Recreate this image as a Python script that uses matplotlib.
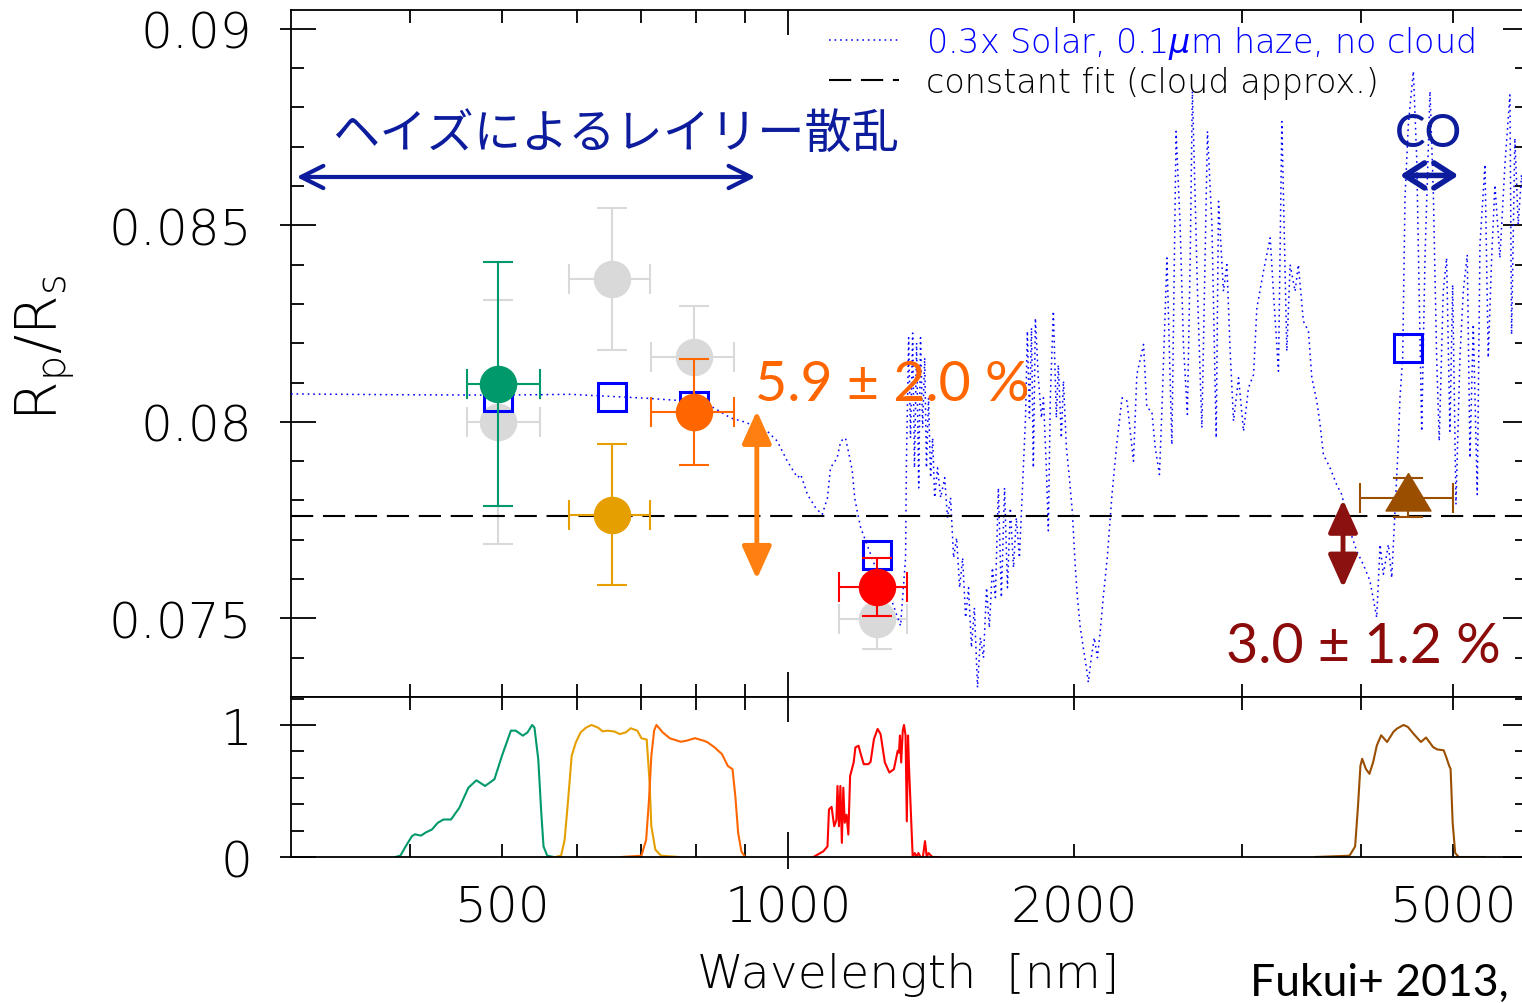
import matplotlib
matplotlib.use('Agg')
import matplotlib.pyplot as plt
from matplotlib.ticker import FixedLocator, FuncFormatter, MultipleLocator, NullLocator

plt.rcParams['font.family'] = ['DejaVu Sans']
plt.rcParams['font.weight'] = 200
plt.rcParams['lines.scale_dashes'] = False
plt.rcParams['mathtext.fontset'] = 'custom'
plt.rcParams['mathtext.rm'] = 'DejaVu Sans:weight=200'
plt.rcParams['mathtext.it'] = 'DejaVu Sans:italic:weight=200'

# ---------------- data ----------------
# model transmission spectrum: 0.3x solar, 0.1 um haze, no cloud
model_wl = [300, 390, 495, 590, 711, 771, 835, 870, 899, 951, 974, 998, 1023, 1031,
            1048, 1069, 1086, 1100, 1108, 1126, 1136, 1149, 1159, 1168, 1175, 1182,
            1192, 1236, 1282, 1313, 1329, 1332, 1339, 1345, 1352, 1358, 1365, 1372,
            1378, 1385, 1392, 1398, 1405, 1412, 1419, 1426, 1436, 1447, 1461, 1471,
            1482, 1493, 1504, 1515, 1526, 1537, 1548, 1559, 1570, 1582, 1593, 1605,
            1617, 1628, 1640, 1652, 1664, 1676, 1689, 1701, 1713, 1726, 1738, 1751,
            1764, 1777, 1785, 1794, 1803, 1811, 1820, 1833, 1847, 1856, 1869, 1878,
            1887, 1901, 1915, 1924, 1938, 1948, 1962, 1976, 1990, 2005, 2015, 2029,
            2044, 2059, 2069, 2084, 2099, 2115, 2130, 2145, 2166, 2182, 2191, 2218,
            2245, 2272, 2308, 2327, 2365, 2384, 2413, 2433, 2458, 2473, 2503, 2533,
            2559, 2584, 2605, 2630, 2648, 2662, 2680, 2695, 2724, 2761, 2791, 2820,
            2836, 2870, 2894, 2917, 2941, 2977, 3013, 3049, 3087, 3112, 3162, 3214,
            3239, 3279, 3306, 3346, 3373, 3414, 3441, 3483, 3526, 3555, 3598, 3627,
            3656, 3715, 3776, 3822, 3900, 3964, 4027, 4093, 4160, 4194, 4227, 4279,
            4314, 4348, 4383, 4401, 4430, 4455, 4491, 4546, 4583, 4639, 4676, 4733,
            4771, 4810, 4840, 4887, 4927, 4967, 5000, 5040, 5089, 5130, 5180, 5214,
            5256, 5307, 5342, 5407, 5450, 5495, 5539, 5606, 5675, 5744, 5767, 5813,
            5860, 5908, 6000]
model_rp = [0.08071, 0.08069, 0.08068, 0.08070, 0.08060, 0.08054, 0.08036, 0.08010,
            0.08000, 0.07976, 0.07951, 0.07900, 0.07858, 0.07866, 0.07815, 0.07781,
            0.07764, 0.07807, 0.07883, 0.07908, 0.07951, 0.07959, 0.07917, 0.07875,
            0.07807, 0.07773, 0.07731, 0.07629, 0.07553, 0.07481, 0.07654, 0.07908,
            0.08214, 0.07959, 0.08226, 0.07883, 0.08201, 0.07832, 0.08214, 0.07985,
            0.08163, 0.07883, 0.08061, 0.07858, 0.07959, 0.07807, 0.07883, 0.07807,
            0.07858, 0.07756, 0.07807, 0.07654, 0.07705, 0.07578, 0.07654, 0.07502,
            0.07578, 0.07426, 0.07527, 0.07324, 0.07451, 0.07400, 0.07578, 0.07476,
            0.07629, 0.07553, 0.07832, 0.07553, 0.07832, 0.07578, 0.07781, 0.07629,
            0.07756, 0.07654, 0.07832, 0.08010, 0.08231, 0.08010, 0.08239, 0.07883,
            0.08264, 0.08112, 0.08010, 0.08061, 0.07883, 0.07723, 0.08061, 0.08282,
            0.08010, 0.08145, 0.07959, 0.08104, 0.07934, 0.07858, 0.07774, 0.07629,
            0.07553, 0.07476, 0.07426, 0.07375, 0.07337, 0.07400, 0.07451, 0.07400,
            0.07469, 0.07553, 0.07654, 0.07756, 0.07815, 0.07951, 0.08061, 0.08053,
            0.07900, 0.08120, 0.08197, 0.08036, 0.08027, 0.07934, 0.07866, 0.08036,
            0.08417, 0.07942, 0.08739, 0.08502, 0.08197, 0.08019, 0.08417, 0.08841,
            0.08569, 0.08332, 0.07985, 0.08739, 0.08502, 0.07959, 0.08561, 0.08332,
            0.08400, 0.08180, 0.08002, 0.08112, 0.07976, 0.08086, 0.08120, 0.08290,
            0.08383, 0.08468, 0.08332, 0.08129, 0.08764, 0.08180, 0.08400, 0.08332,
            0.08400, 0.08256, 0.08231, 0.08112, 0.08053, 0.07993, 0.07917, 0.07883,
            0.07840, 0.07815, 0.07722, 0.07671, 0.07637, 0.07595, 0.07502, 0.07688,
            0.07612, 0.07688, 0.07603, 0.07773, 0.07942, 0.08061, 0.08163, 0.08569,
            0.08756, 0.08892, 0.08671, 0.07976, 0.08417, 0.08841, 0.08586, 0.08163,
            0.07951, 0.08332, 0.08417, 0.07976, 0.08349, 0.07790, 0.08163, 0.08332,
            0.08425, 0.07908, 0.08248, 0.07815, 0.08451, 0.08655, 0.08163, 0.08417,
            0.08603, 0.08417, 0.08655, 0.08832, 0.08222, 0.08722, 0.08502, 0.08629,
            0.08450]

const_fit = 0.0776

# observed radii (this work) and earlier values
band_wl = [495, 653, 796, 1239]
band_lo = [36, 65, 79, 108]
band_hi = [53, 63, 82, 95]
prev_rp = [0.0800, 0.08364, 0.08165, 0.07498]
prev_err = [0.0031, 0.0018, 0.0013, 0.00077]
obs_rp = [0.08097, 0.07764, 0.08025, 0.07580]
obs_err = [0.0031, 0.0018, 0.00135, 0.00073]
obs_colors = ['#00996b', '#e69f00', '#ff6600', '#ff0000']
model_bin_wl = [495, 653, 796, 1239, 4490]
model_bin_rp = [0.08064, 0.08064, 0.08041, 0.07661, 0.08188]

irac_wl = 4490
irac_lo, irac_hi = 494, 510
irac_rp = 0.07807
irac_err = 0.0005

# filter response curves
g_wl = [386, 391, 396, 402, 405, 411, 416, 422, 428, 434, 442, 451, 461, 470, 480,
        491, 500, 511, 517, 526, 532, 538, 541, 546, 550, 553, 558, 567]
g_tr = [0, 0.01, 0.08, 0.157, 0.172, 0.162, 0.187, 0.208, 0.259, 0.284, 0.284,
        0.373, 0.525, 0.581, 0.538, 0.589, 0.766, 0.957, 0.957, 0.919, 0.944, 1.0,
        0.98, 0.74, 0.335, 0.08, 0.01, 0]
r_wl = [569, 577, 582, 587, 592, 598, 605, 613, 621, 631, 638, 646, 657, 665, 675,
        683, 694, 701, 710, 715, 718, 725, 735, 768]
r_tr = [0, 0.01, 0.13, 0.436, 0.766, 0.868, 0.944, 0.98, 1.0, 0.98, 0.952, 0.957,
        0.95, 0.931, 0.944, 0.975, 0.957, 0.899, 0.89, 0.563, 0.233, 0.056, 0.01, 0]
i_wl = [667, 701, 709, 714, 718, 723, 727, 738, 751, 771, 781, 798, 816, 823, 837,
        852, 864, 874, 880, 886, 893, 901]
i_tr = [0, 0.01, 0.13, 0.436, 0.766, 0.96, 1.0, 0.944, 0.899, 0.873, 0.88, 0.9,
        0.88, 0.868, 0.83, 0.779, 0.69, 0.665, 0.46, 0.183, 0.043, 0]
j_wl = [1063, 1089, 1100, 1104, 1111, 1118, 1124, 1127, 1131, 1135, 1139, 1143,
        1147, 1152, 1157, 1162, 1172, 1177, 1186, 1191, 1201, 1214, 1221, 1231, 1242,
        1251, 1264, 1278, 1292, 1304, 1308, 1311, 1315, 1320, 1324, 1329, 1333, 1337,
        1340, 1352, 1359, 1363, 1371, 1378, 1386, 1393, 1399, 1405, 1418, 1443]
j_tr = [0, 0.043, 0.08, 0.36, 0.38, 0.233, 0.28, 0.538, 0.233, 0.538, 0.107, 0.525,
        0.26, 0.32, 0.17, 0.614, 0.716, 0.83, 0.843, 0.792, 0.703, 0.703, 0.72, 0.893,
        0.97, 0.931, 0.716, 0.64, 0.665, 0.805, 0.79, 0.92, 0.716, 0.957, 1.0, 0.92,
        0.27, 0.92, 0.69, 0.01, 0.03, 0, 0.03, 0, 0, 0.12, 0, 0.03, 0, 0]
ch2_wl = [3581, 3895, 3948, 3976, 3999, 4016, 4052, 4087, 4124, 4161, 4205, 4266,
          4331, 4368, 4439, 4486, 4546, 4630, 4688, 4768, 4814, 4893, 4930, 4958,
          4975, 5000, 5031, 5075, 5400]
ch2_tr = [0, 0.01, 0.08, 0.39, 0.69, 0.744, 0.668, 0.63, 0.718, 0.845, 0.922, 0.871,
          0.947, 0.972, 1.0, 0.985, 0.935, 0.871, 0.905, 0.833, 0.815, 0.808, 0.744,
          0.69, 0.668, 0.26, 0.03, 0, 0]
irac_color = '#9a4e00'

x_minor = [400, 500, 600, 700, 800, 900, 2000, 3000, 4000, 5000]
x_labelled = [500, 1000, 2000, 5000]

navy = '#0c1c9c'

# ---------------- figure ----------------
fig = plt.figure(figsize=(15.22, 10.04), dpi=100)
ax = fig.add_axes([0.1912, 0.3048, 0.8127, 0.6843])
ax2 = fig.add_axes([0.1912, 0.1454, 0.8127, 0.1594])

for a in (ax, ax2):
    a.set_xscale('log')
    a.set_xlim(300, 6000)
    a.xaxis.set_major_locator(FixedLocator([1000]))
    a.xaxis.set_minor_locator(FixedLocator(x_minor))
    for s in a.spines.values():
        s.set_linewidth(1.3)
    a.tick_params(which='both', direction='in', top=True, right=True, width=1.3,
                  labelsize=36, pad=28)
    a.tick_params(which='major', length=18)
    a.tick_params(which='minor', length=9.4)

xfmt = FuncFormatter(lambda v, p: '%d' % v if round(v) in x_labelled else '')
ax2.xaxis.set_major_formatter(xfmt)
ax2.xaxis.set_minor_formatter(xfmt)
ax2.tick_params(axis='x', which='both', pad=19)
ax.tick_params(axis='x', which='both', labelbottom=False)

ax.set_ylim(0.0730, 0.09048)
ax.yaxis.set_major_locator(FixedLocator([0.075, 0.08, 0.085, 0.09]))
ax.yaxis.set_minor_locator(MultipleLocator(0.001))
ax.yaxis.set_major_formatter(FuncFormatter(lambda v, p: '%g' % v))

ax2.set_ylim(0, 1.212)
ax2.yaxis.set_major_locator(FixedLocator([0, 1]))
ax2.yaxis.set_minor_locator(MultipleLocator(0.2))
ax2.yaxis.set_major_formatter(FuncFormatter(lambda v, p: '%d' % v))

# outward stubs of the major ticks
for a, ticks in ((ax, [0.075, 0.08, 0.085, 0.09]), (ax2, [0, 1])):
    sec = a.secondary_yaxis('left')
    sec.set_ticks(ticks)
    sec.yaxis.set_minor_locator(NullLocator())
    sec.tick_params(which='both', direction='out', length=8, width=1.3, labelleft=False)
    sec.spines['left'].set_visible(False)
secx = ax2.secondary_xaxis('bottom')
secx.set_ticks([1000])
secx.xaxis.set_minor_locator(NullLocator())
secx.tick_params(which='both', direction='out', length=8.6, width=1.3, labelbottom=False)
secx.spines['bottom'].set_visible(False)

# upper panel
model_line, = ax.plot(model_wl, model_rp, color='#0000ff', lw=1.1,
                      ls=(0, (1.2, 2.8)), zorder=3,
                      label='0.3x Solar, 0.1$\\mu$m haze, no cloud')
fit_line = ax.axhline(const_fit, color='black', lw=1.5, ls=(0, (16, 7)), zorder=3,
                      label='constant fit (cloud approx.)')

ax.errorbar(band_wl, prev_rp, xerr=[band_lo, band_hi], yerr=prev_err, fmt='o',
            color='#d9d9d9', ms=26, elinewidth=1.5, capsize=11, capthick=1.5, zorder=2)
ax.plot(model_bin_wl, model_bin_rp, 's', ms=19.5, mfc='none', mec='#0000ff', mew=2.2,
        zorder=4)
for wl, lo, hi, rp, err, c in zip(band_wl, band_lo, band_hi, obs_rp, obs_err, obs_colors):
    ax.errorbar([wl], [rp], xerr=[[lo], [hi]], yerr=[err], fmt='o', color=c, ms=26,
                elinewidth=1.5, capsize=11, capthick=1.5, zorder=5)
tri = [(0, 2 / 3), (-0.6, -1 / 3), (0.6, -1 / 3), (0, 2 / 3)]
ax.errorbar([irac_wl], [irac_rp], xerr=[[irac_lo], [irac_hi]], yerr=[irac_err],
            fmt='none', ecolor=irac_color, elinewidth=1.5, capsize=11, capthick=1.5,
            zorder=5)
ax.plot([irac_wl], [irac_rp], marker=tri, ms=36, color=irac_color, ls='none', zorder=6)

leg = ax.legend(handles=[model_line, fit_line], loc='upper right',
                bbox_to_anchor=(0.957, 0.98), frameon=False, fontsize=24,
                handlelength=2.1, handletextpad=0.8, labelspacing=0.15,
                borderpad=0, borderaxespad=0, labelcolor='linecolor')

# annotations
ax.annotate('', xy=(924, 0.08623), xytext=(304, 0.08623),
            arrowprops=dict(arrowstyle='<->,head_length=0.8,head_width=0.4', lw=3,
                            color=navy, shrinkA=0, shrinkB=0, mutation_scale=20))
ax.text(331, 0.08732, 'ヘイズによるレイリー散乱', color=navy, fontsize=34,
        family=['Noto Sans CJK JP'], fontweight='normal', va='center', ha='left')
ax.annotate('', xy=(5071, 0.08627), xytext=(4401, 0.08627),
            arrowprops=dict(arrowstyle='<->,head_length=0.7,head_width=0.45', lw=4,
                            color=navy, shrinkA=0, shrinkB=0, mutation_scale=20))
ax.text(4713, 0.08735, 'CO', color=navy, fontsize=33, family=['Lato'],
        fontweight='normal', va='center', ha='center')

ax.annotate('', xy=(927, 0.08028), xytext=(927, 0.0760),
            arrowprops=dict(arrowstyle='<|-|>,head_length=1.0,head_width=0.45', lw=3.5,
                            color='#ff8010', shrinkA=0, shrinkB=0, mutation_scale=20))
ax.text(924, 0.08094, '5.9 ± 2.0 %', color='#ff6600', fontsize=40, family=['Lato'],
        fontweight='normal', va='center', ha='left')
ax.annotate('', xy=(3834, 0.07802), xytext=(3834, 0.07578),
            arrowprops=dict(arrowstyle='<|-|>,head_length=1.0,head_width=0.45', lw=3.5,
                            color='#8b1010', shrinkA=0, shrinkB=0, mutation_scale=20))
ax.text(2889, 0.07428, '3.0 ± 1.2 %', color='#8b0a0a', fontsize=40, family=['Lato'],
        fontweight='normal', va='center', ha='left')

# lower panel: filter responses
for wl, tr, c in ((g_wl, g_tr, '#00996b'), (r_wl, r_tr, '#e69f00'),
                  (i_wl, i_tr, '#ff6600'), (j_wl, j_tr, '#ff0000'),
                  (ch2_wl, ch2_tr, irac_color)):
    ax2.plot(wl, tr, color=c, lw=1.5)

fig.text(45 / 1522, 1 - 348 / 1004, '$\\mathregular{R_p/R_s}$', rotation=90,
         fontsize=41, ha='center', va='center')
fig.text(908 / 1522, 1 - 975 / 1004, 'Wavelength  [nm]', fontsize=34,
         ha='center', va='center')
fig.text(1250 / 1522, 1 - 983 / 1004, 'Fukui+ 2013,', fontsize=32, family=['Lato'],
         fontweight='normal', ha='left', va='center')

fig.savefig('out.png', dpi=100)
